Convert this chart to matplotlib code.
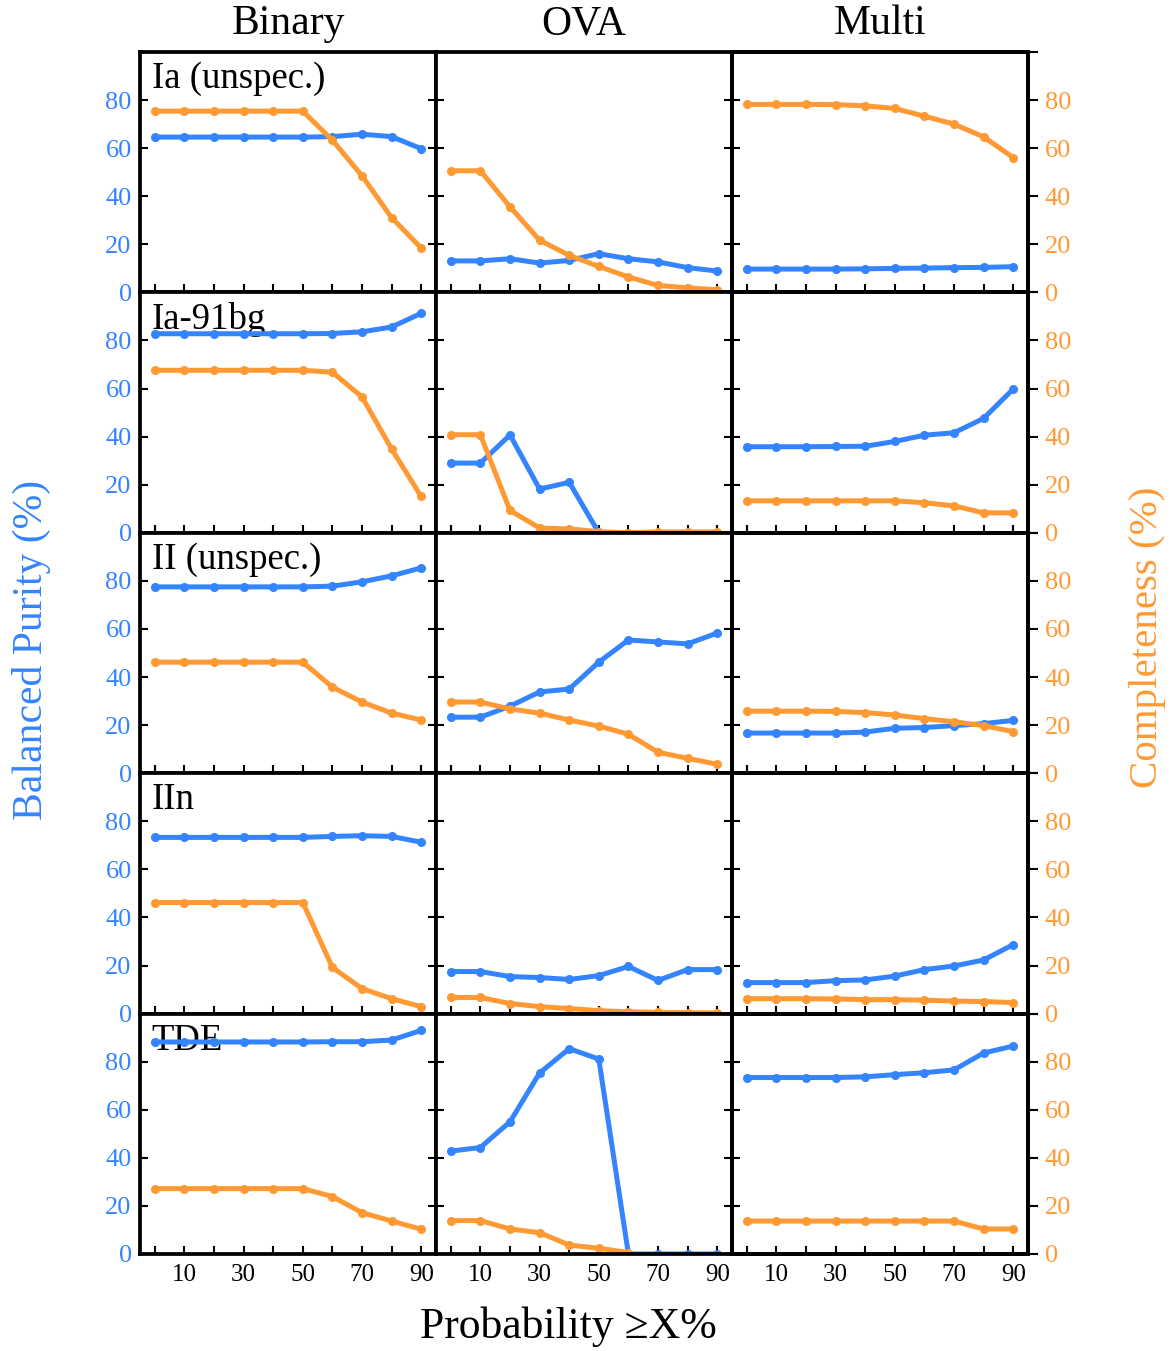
import numpy as np
import matplotlib
matplotlib.use("Agg")
import matplotlib.pyplot as plt

plt.rcParams['font.family'] = ['Liberation Serif', 'DejaVu Serif']

BLUE = '#3484FF'
ORANGE = '#FF9933'

thresholds = [0, 10, 20, 30, 40, 50, 60, 70, 80, 90]
methods = ['Binary', 'OVA', 'Multi']
classes = ['Ia (unspec.)', 'Ia-91bg', 'II (unspec.)', 'IIn', 'TDE']
xtick_labels = ['', '10', '', '30', '', '50', '', '70', '', '90']

# balanced purity (%), one list per class, per method
purity_binary = [
    [64.6, 64.6, 64.6, 64.6, 64.6, 64.6, 64.8, 65.8, 64.8, 59.8],
    [82.8, 82.8, 82.8, 82.8, 82.8, 82.8, 82.9, 83.6, 85.6, 91.3],
    [77.5, 77.5, 77.5, 77.5, 77.5, 77.5, 77.8, 79.6, 82.1, 85.4],
    [73.3, 73.3, 73.3, 73.3, 73.3, 73.3, 73.7, 74.0, 73.7, 71.3],
    [88.2, 88.2, 88.2, 88.2, 88.2, 88.2, 88.3, 88.3, 89.0, 93.0],
]
purity_ova = [
    [13.1, 13.1, 14.0, 12.2, 13.3, 16.1, 14.0, 12.7, 10.3, 8.9],
    [29.0, 29.0, 40.7, 18.2, 21.0, 0.0, 0.0, 0.0, 0.0, 0.0],
    [23.3, 23.3, 27.9, 33.8, 35.0, 46.2, 55.4, 54.6, 53.8, 58.3],
    [17.5, 17.5, 15.4, 15.0, 14.2, 15.8, 19.6, 13.8, 18.3, 18.3],
    [42.8, 44.3, 55.0, 75.3, 85.4, 81.1, 0.0, 0.0, 0.0, 0.0],
]
purity_multi = [
    [9.7, 9.7, 9.7, 9.7, 9.8, 10.0, 10.1, 10.3, 10.4, 10.7],
    [35.8, 35.8, 35.8, 35.9, 36.0, 38.0, 40.6, 41.6, 47.6, 59.8],
    [16.7, 16.7, 16.7, 16.7, 17.1, 18.7, 19.0, 19.8, 20.6, 22.0],
    [12.9, 12.9, 12.9, 13.7, 14.0, 15.6, 18.3, 19.8, 22.3, 28.7],
    [73.4, 73.4, 73.4, 73.4, 73.7, 74.6, 75.4, 76.6, 83.6, 86.5],
]

# completeness (%)
complete_binary = [
    [75.4, 75.4, 75.4, 75.4, 75.4, 75.4, 63.3, 48.5, 31.1, 18.5],
    [67.6, 67.6, 67.6, 67.6, 67.6, 67.6, 66.8, 56.5, 34.9, 15.1],
    [46.2, 46.2, 46.2, 46.2, 46.2, 46.2, 35.8, 29.6, 25.0, 22.1],
    [46.2, 46.2, 46.2, 46.2, 46.2, 46.2, 19.2, 10.4, 6.2, 2.9],
    [27.2, 27.2, 27.2, 27.2, 27.2, 27.2, 23.9, 17.2, 13.7, 10.3],
]
complete_ova = [
    [50.6, 50.6, 35.6, 21.7, 15.4, 10.8, 6.4, 2.9, 1.9, 1.1],
    [40.8, 40.8, 9.3, 2.0, 1.6, 0.5, 0.0, 0.4, 0.4, 0.4],
    [29.6, 29.6, 26.7, 25.0, 22.1, 19.6, 16.2, 8.7, 6.2, 3.7],
    [6.7, 6.7, 4.2, 2.9, 2.1, 1.2, 0.8, 0.5, 0.4, 0.3],
    [13.9, 13.9, 10.4, 8.9, 3.7, 2.4, 0.6, np.nan, np.nan, np.nan],
]
complete_multi = [
    [78.2, 78.2, 78.2, 78.1, 77.6, 76.5, 73.3, 70.0, 64.7, 56.1],
    [13.3, 13.3, 13.3, 13.3, 13.3, 13.3, 12.5, 11.2, 8.3, 8.3],
    [25.8, 25.8, 25.8, 25.7, 25.2, 24.2, 22.7, 21.4, 19.8, 17.3],
    [6.2, 6.2, 6.2, 6.1, 5.8, 5.8, 5.6, 5.2, 5.0, 4.6],
    [13.7, 13.7, 13.7, 13.7, 13.7, 13.7, 13.7, 13.7, 10.4, 10.4],
]

purity = [purity_binary, purity_ova, purity_multi]
complete = [complete_binary, complete_ova, complete_multi]

fig, axes = plt.subplots(5, 3, figsize=(11.73, 13.51), dpi=100,
                         sharex=True, sharey=True)
fig.subplots_adjust(left=140 / 1173, right=1028 / 1173,
                    top=1 - 52 / 1351, bottom=1 - 1254 / 1351,
                    wspace=0, hspace=0)

for r in range(5):
    for c in range(3):
        ax = axes[r, c]
        ax.plot(thresholds, purity[c][r], '-o', color=BLUE, lw=3.6, ms=5.5)
        ax.plot(thresholds, complete[c][r], '-o', color=ORANGE, lw=3.6, ms=5.5)
        ax.set_xlim(-5, 95)
        ax.set_ylim(0, 100)
        ax.set_xticks(thresholds)
        ax.set_xticklabels(xtick_labels)
        ax.set_yticks([0, 20, 40, 60, 80])
        ax.set_yticklabels(['0', '20', '40', '60', '80'])
        for s in ax.spines.values():
            s.set_linewidth(2.7)
        ax.tick_params(axis='x', direction='in', length=6, width=1.5,
                       top=False, labelsize=18, pad=7)
        ax.tick_params(axis='y', direction='in', length=6, width=1.5,
                       left=True, right=(c < 2), labelsize=19,
                       labelcolor=BLUE, pad=6)
        if c == 0:
            ax.text(0.04, 0.96, classes[r], transform=ax.transAxes,
                    fontsize=26.5, va='top', ha='left', zorder=1)
        if c == 2:
            tw = ax.twinx()
            tw.set_ylim(0, 100)
            tw.set_yticks([0, 20, 40, 60, 80, 100])
            tw.set_yticklabels(['0', '20', '40', '60', '80', ''])
            tw.tick_params(axis='y', direction='out', length=7, width=1.5,
                           labelsize=19, labelcolor=ORANGE, pad=5)
            for s in tw.spines.values():
                s.set_linewidth(2.7)

for c, name in enumerate(methods):
    x0 = axes[0, c].get_position().x0
    x1 = axes[0, c].get_position().x1
    fig.text((x0 + x1) / 2, 1 - 24 / 1351, name, fontsize=30,
             ha='center', va='center')

fig.text(31 / 1173, 1 - 650 / 1351, 'Balanced Purity (%)', color=BLUE,
         fontsize=30, rotation=90, ha='center', va='center')
fig.text(1148 / 1173, 1 - 637 / 1351, 'Completeness (%)', color=ORANGE,
         fontsize=29.5, rotation=90, ha='center', va='center')
fig.text(568 / 1173, 1 - 1327 / 1351, 'Probability \u2265X%', fontsize=31.5,
         ha='center', va='center')

fig.savefig('out.png', dpi=100)
